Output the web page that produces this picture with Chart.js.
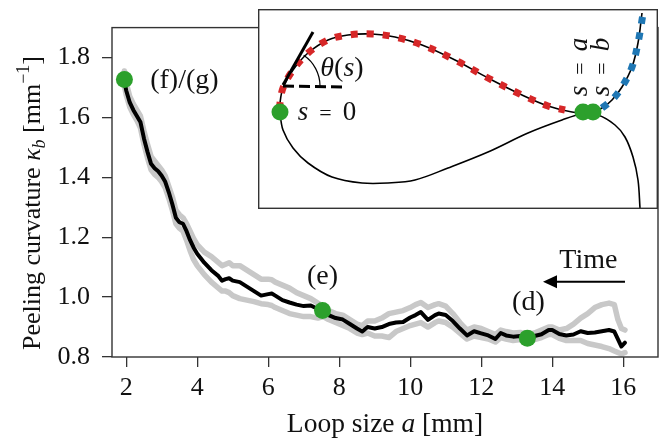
<!DOCTYPE html>
<html><head><meta charset="utf-8">
<script src="https://cdn.jsdelivr.net/npm/chart.js@4.4.1/dist/chart.umd.min.js"></script>
<style>
html,body{margin:0;padding:0;background:#fff;}
#wrap{position:relative;width:659px;height:439px;overflow:hidden;}
#main{position:absolute;left:0;top:0;}
#inset{position:absolute;left:258px;top:9px;}
</style></head><body>
<div id="wrap"><canvas id="main" width="659" height="439"></canvas><canvas id="inset" width="400" height="200"></canvas></div>
<script>
// ---------- main data ----------
const sizeA = [1.95,2.0,2.1,2.2,2.3,2.4,2.5,2.6,2.7,2.8,2.9,3.0,3.1,3.2,3.3,3.4,3.5,3.6,3.7,3.8,3.9,4.0,
 4.2,4.4,4.6,4.7,4.8,4.9,5.0,5.2,5.4,5.6,5.8,6.0,6.1,6.2,6.4,6.6,6.8,7.0,7.2,7.4,7.55,7.7,7.9,8.1,8.3,8.5,8.65,8.8,
 9.0,9.2,9.4,9.6,9.8,10.0,10.15,10.3,10.5,10.7,10.8,11.0,11.2,11.4,11.6,11.8,12.0,12.2,12.4,12.55,12.7,12.9,
 13.1,13.3,13.5,13.7,13.9,14.0,14.2,14.4,14.6,14.8,15.0,15.2,15.4,15.6,15.75,15.85,15.95,16.05];
const kappaMean = [1.72,1.69,1.65,1.625,1.605,1.585,1.53,1.485,1.445,1.43,1.42,1.405,1.385,1.35,1.31,1.265,1.25,1.245,1.22,1.19,1.165,1.145,
 1.115,1.09,1.07,1.055,1.06,1.063,1.055,1.05,1.035,1.02,
 1.005,1.01,1.012,1.005,0.99,0.982,0.975,0.97,0.972,0.96,
 0.955,0.94,0.93,0.925,0.91,0.895,0.885,0.90,0.895,0.90,
 0.91,0.915,0.917,0.932,0.94,0.95,0.924,0.94,0.945,0.94,
 0.92,0.895,0.872,0.886,0.879,0.872,0.86,0.88,0.872,0.868,
 0.87,0.863,0.87,0.876,0.89,0.89,0.877,0.872,0.875,0.886,
 0.88,0.882,0.886,0.89,0.885,0.86,0.835,0.848];
const kappaUpper = [1.755,1.715,1.67,1.645,1.625,1.605,1.555,1.51,1.47,1.455,1.44,1.425,1.405,1.37,1.335,1.29,1.275,1.265,1.245,1.22,1.195,1.175,
 1.15,1.135,1.115,1.105,1.11,1.115,1.105,1.105,1.09,1.075,
 1.06,1.06,1.058,1.05,1.04,1.03,1.015,1.005,0.995,0.98,
 0.97,0.955,0.945,0.94,0.925,0.91,0.905,0.92,0.92,0.93,
 0.945,0.95,0.955,0.965,0.975,0.982,0.965,0.975,0.978,0.97,
 0.945,0.915,0.89,0.9,0.895,0.885,0.875,0.89,0.885,0.88,
 0.882,0.875,0.88,0.89,0.9,0.9,0.89,0.895,0.91,0.93,
 0.945,0.965,0.975,0.98,0.975,0.925,0.895,0.89];
const kappaLower = [1.705,1.675,1.635,1.61,1.59,1.565,1.51,1.465,1.425,1.41,1.4,1.385,1.365,1.33,1.29,1.245,1.23,1.22,1.19,1.155,1.125,1.105,
 1.075,1.05,1.03,1.02,1.02,1.015,1.005,0.995,0.99,0.985,
 0.978,0.975,0.972,0.965,0.955,0.945,0.94,0.935,0.935,0.93,
 0.935,0.925,0.915,0.905,0.895,0.88,0.875,0.88,0.87,0.87,
 0.865,0.885,0.895,0.905,0.91,0.915,0.9,0.915,0.92,0.915,
 0.9,0.88,0.86,0.87,0.865,0.86,0.85,0.865,0.86,0.855,
 0.858,0.852,0.858,0.865,0.875,0.875,0.862,0.855,0.855,0.855,
 0.845,0.84,0.835,0.828,0.82,0.815,0.81,0.815];
const markA = [1.95, 7.53, 13.3];
const markK = [1.727, 0.955, 0.863];
const xTicks = [2,4,6,8,10,12,14,16];
const yTicks = [0.8,1.0,1.2,1.4,1.6,1.8];
const noteText = ['(f)/(g)','(e)','(d)','Time'];
const noteA = [3.64, 7.53, 13.33, 15.02];
const noteK = [1.724, 1.067, 0.981, 1.121];
const arrowA = [16.05, 13.74];
const arrowK = [1.051, 1.051];

// ---------- inset (schematic) data ----------
const loopX = [384,380,374,364,354,344,330,314,290,264,230,197,164,137,114,90,70,50,35,25,22,22,25,35,50,74,104,130,157,190,230,270,304,324,340,357,367,375,380,382];
const loopY = [4,34,58,78,91,99,104,103,97,86,69,51,36,28,25,26,31,44,61,79,94,103,121,139,154,168,174,174,171,159,143,124,111,105,106,116,128,148,171,199];
const redX = [22,22,25,35,50,70,90,114,137,164,197,230,264,290,307];
const redY = [100,94,79,61,44,31,26,25,28,36,51,69,86,97,101];
const blueX = [344,354,364,374,380,385];
const blueY = [99,91,78,58,34,5];
const tangentX = [25,55];
const tangentY = [76,23];
const refX = [25,89];
const refY = [77,78];
const dotX = [22,325,335];
const dotY = [103,103,103];

const SERIF = '"Liberation Serif","Times New Roman",serif';
const F = (s, it) => (it ? 'italic ' : '') + s + 'px ' + SERIF;
function mk(x, y){ return x.map((v,i)=>({x:v,y:y[i]})); }
function drawRich(ctx, parts, x, y){
  let w = 0;
  for (const p of parts){ ctx.font = p.f; w += ctx.measureText(p.t).width; }
  let cx = x - w/2;
  ctx.textAlign = 'left'; ctx.textBaseline = 'alphabetic';
  for (const p of parts){ ctx.font = p.f; ctx.fillText(p.t, cx, y + (p.dy||0)); cx += ctx.measureText(p.t).width; }
}

const mainDecor = {
  id: 'mainDecor',
  afterDatasetsDraw(chart){
    const ctx = chart.ctx, xs = chart.scales.x, ys = chart.scales.y;
    ctx.save();
    ctx.fillStyle = '#111';
    ctx.font = F(28);
    ctx.textAlign = 'center'; ctx.textBaseline = 'middle';
    noteText.forEach((t,i)=>ctx.fillText(t, xs.getPixelForValue(noteA[i]), ys.getPixelForValue(noteK[i])));
    const x0 = xs.getPixelForValue(arrowA[0]), x1 = xs.getPixelForValue(arrowA[1]);
    const y0 = ys.getPixelForValue(arrowK[0]);
    ctx.strokeStyle = '#000'; ctx.lineWidth = 2;
    ctx.beginPath(); ctx.moveTo(x0, y0); ctx.lineTo(x1 + 10, y0); ctx.stroke();
    ctx.fillStyle = '#000';
    ctx.beginPath(); ctx.moveTo(x1, y0); ctx.lineTo(x1 + 14, y0 - 6.5); ctx.lineTo(x1 + 14, y0 + 6.5); ctx.closePath(); ctx.fill();
    ctx.restore();
  },
  afterDraw(chart){
    const ctx = chart.ctx, a = chart.chartArea;
    ctx.save();
    ctx.strokeStyle = '#333'; ctx.lineWidth = 1.4;
    ctx.strokeRect(a.left, a.top, a.right - a.left, a.bottom - a.top);
    ctx.fillStyle = '#111';
    drawRich(ctx, [{t:'Loop size ', f:F(27.5)}, {t:'a', f:F(27.5,true)}, {t:' [mm]', f:F(27.5)}], (a.left + a.right)/2, 432);
    ctx.translate(40, 203);
    ctx.rotate(-Math.PI/2);
    drawRich(ctx, [{t:'Peeling curvature ', f:F(26)}, {t:'κ', f:F(26,true)}, {t:'b', f:F(18,true), dy:5},
      {t:' [mm', f:F(26)}, {t:'−1', f:F(18), dy:-11}, {t:']', f:F(26)}], 0, 0);
    ctx.restore();
  }
};

const axisGrid = {display:true, drawOnChartArea:false, drawTicks:true, tickLength:10, color:'#333', lineWidth:1.3};
new Chart(document.getElementById('main'), {
  type: 'scatter',
  data: { datasets: [
    {data: mk(sizeA, kappaUpper), showLine:true, borderColor:'#c8c8c8', borderWidth:5.5, pointRadius:0, order:3, borderJoinStyle:'round', borderCapStyle:'round'},
    {data: mk(sizeA, kappaLower), showLine:true, borderColor:'#c8c8c8', borderWidth:5.5, pointRadius:0, order:3, borderJoinStyle:'round', borderCapStyle:'round'},
    {data: mk(sizeA, kappaMean), showLine:true, borderColor:'#000', borderWidth:4, pointRadius:0, order:2, borderJoinStyle:'round', borderCapStyle:'round'},
    {data: mk(markA, markK), showLine:false, pointRadius:8.5, backgroundColor:'#2ca02c', borderWidth:0, order:1}
  ]},
  options: {
    responsive:false, animation:false, devicePixelRatio:1, events:[],
    layout:{autoPadding:false, padding:{top:9, right:1, left:0, bottom:0}},
    plugins:{legend:{display:false}, tooltip:{enabled:false}},
    scales:{
      x:{type:'linear', min:1.6, max:16.98,
         afterFit(s){ s.height = 82; },
         afterBuildTicks(s){ s.ticks = xTicks.map(v=>({value:v})); },
         ticks:{font:{family:SERIF, size:26}, color:'#111', padding:6, maxRotation:0, autoSkip:false, callback:v=>String(v)},
         grid:axisGrid, border:{display:false}},
      y:{type:'linear', min:0.8, max:1.9,
         afterFit(s){ s.width = 112; },
         afterBuildTicks(s){ s.ticks = yTicks.map(v=>({value:v})); },
         ticks:{font:{family:SERIF, size:26}, color:'#111', padding:12, autoSkip:false, callback:v=>Number(v).toFixed(1)},
         grid:axisGrid, border:{display:false}}
    }
  },
  plugins:[mainDecor]
});

// ---------- inset ----------
const insetDecor = {
  id:'insetDecor',
  beforeDraw(chart){
    const ctx = chart.ctx; ctx.save(); ctx.fillStyle = '#fff'; ctx.fillRect(0,0,chart.width,chart.height); ctx.restore();
  },
  afterDatasetsDraw(chart){
    const ctx = chart.ctx, xs = chart.scales.x, ys = chart.scales.y;
    ctx.save();
    const cx = xs.getPixelForValue(refX[0]), cy = ys.getPixelForValue(refY[0]);
    ctx.strokeStyle = '#000'; ctx.lineWidth = 1.2;
    ctx.beginPath(); ctx.arc(cx, cy, 37, -56*Math.PI/180, 0); ctx.stroke();
    ctx.fillStyle = '#111';
    drawRich(ctx, [{t:'θ', f:F(28,true)}, {t:'(', f:F(28)}, {t:'s', f:F(28,true)}, {t:')', f:F(28)}], 84, 67);
    drawRich(ctx, [{t:'s', f:F(27,true)}, {t:'  =  ', f:F(22)}, {t:'0', f:F(27)}], 69, 111);
    ctx.save(); ctx.translate(329, 58); ctx.rotate(-Math.PI/2);
    drawRich(ctx, [{t:'s', f:F(27,true)}, {t:'  =  ', f:F(22)}, {t:'a', f:F(27,true)}], 0, 0);
    ctx.restore();
    ctx.save(); ctx.translate(351, 58); ctx.rotate(-Math.PI/2);
    drawRich(ctx, [{t:'s', f:F(27,true)}, {t:'  =  ', f:F(22)}, {t:'b', f:F(27,true)}], 0, 0);
    ctx.restore();
    ctx.restore();
  },
  afterDraw(chart){
    const ctx = chart.ctx; ctx.save(); ctx.strokeStyle = '#333'; ctx.lineWidth = 1.4;
    ctx.strokeRect(0.7, 0.7, chart.width - 1.4, chart.height - 1.4); ctx.restore();
  }
};
new Chart(document.getElementById('inset'), {
  type:'scatter',
  data:{datasets:[
    {data: mk(tangentX, tangentY), showLine:true, borderColor:'#000', borderWidth:3, pointRadius:0, order:0},
    {data: mk(refX, refY), showLine:true, borderColor:'#000', borderWidth:3, borderDash:[11,5], pointRadius:0, order:0},
    {data: mk(dotX, dotY), showLine:false, pointRadius:8.5, backgroundColor:'#2ca02c', borderWidth:0, order:1},
    {data: mk(redX, redY), showLine:true, borderColor:'#d62728', borderWidth:7, borderDash:[7,9], borderCapStyle:'butt', pointRadius:0, tension:0.35, order:2},
    {data: mk(blueX, blueY), showLine:true, borderColor:'#1f77b4', borderWidth:7, borderDash:[7,9], borderCapStyle:'butt', pointRadius:0, tension:0.35, order:2},
    {data: mk(loopX, loopY), showLine:true, borderColor:'#000', borderWidth:1.6, pointRadius:0, tension:0.35, order:3}
  ]},
  options:{responsive:false, animation:false, devicePixelRatio:1, events:[],
    layout:{autoPadding:false, padding:0},
    plugins:{legend:{display:false}, tooltip:{enabled:false}},
    scales:{x:{type:'linear', min:0, max:400, display:false}, y:{type:'linear', min:0, max:200, reverse:true, display:false}}
  },
  plugins:[insetDecor]
});
</script></body></html>
